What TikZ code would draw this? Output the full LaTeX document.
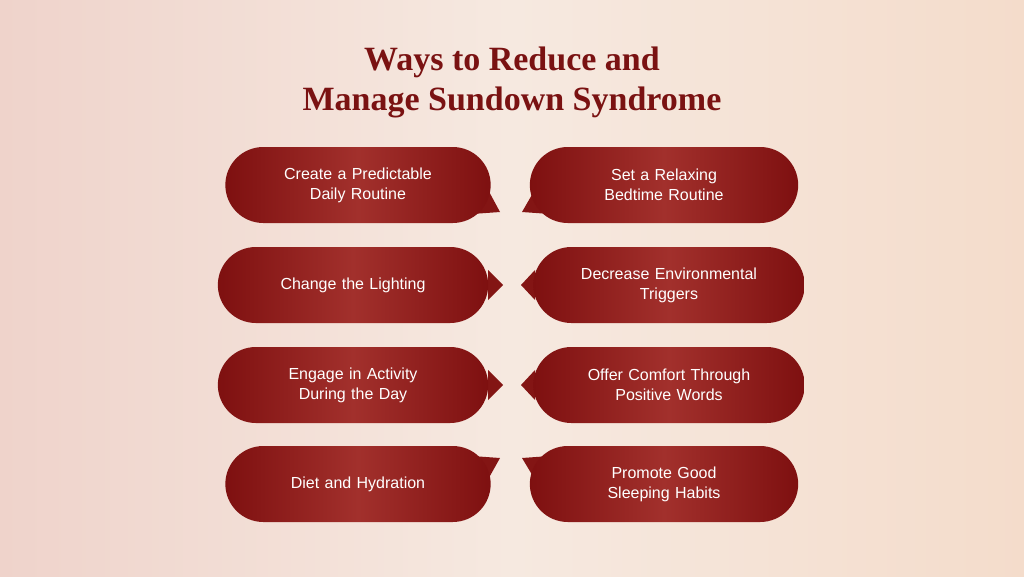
\documentclass[tikz,border=0pt]{standalone}
\usepackage{fontspec}
\setmainfont{Liberation Sans}
\newfontfamily\titlefont{Liberation Serif}
\usetikzlibrary{shapes.misc,positioning}
\definecolor{wine}{HTML}{7E1010}
\definecolor{winemid}{HTML}{A2302C}
\definecolor{titlered}{HTML}{7A1212}
\definecolor{bgleft}{HTML}{EFD3CB}
\definecolor{bgmid}{HTML}{F6E9E0}
\definecolor{bgright}{HTML}{F4DCCB}
\begin{document}
\begin{tikzpicture}[x=1pt,y=-1pt]

  \tikzset{
    bubble/.style={rounded rectangle,minimum height=76pt,text width=200pt,align=center,
      left color=wine,right color=wine,middle color=winemid,text=white,
      font=\fontsize{16}{20}\selectfont},
    tail/.style={fill=wine!85!winemid},
  }

  % background
  \shade[left color=bgleft,right color=bgright,middle color=bgmid]
    (0,0) rectangle (1024,576);
  \useasboundingbox (0,0) rectangle (1024,576);

  \node[text=titlered,align=center,font=\titlefont\bfseries\fontsize{34}{40}\selectfont] (title) at (512,82)
    {Ways to Reduce and\\Manage Sundown Syndrome};

  % LEFT column
  \fill[tail] (486,186) -- (500,212) -- (472,214) -- cycle;
  \node[bubble,minimum width=272pt] (b1) at (358,185) {Create a Predictable\\Daily Routine};
  \fill[tail] (488,270) -- (503,285) -- (488,300) -- cycle;
  \node[bubble,minimum width=277pt] (b3) at (353,285) {Change the Lighting};
  \fill[tail] (488,370) -- (503,385) -- (488,400) -- cycle;
  \node[bubble,minimum width=277pt] (b5) at (353,385) {Engage in Activity\\During the Day};
  \fill[tail] (486,483) -- (500,458) -- (472,456) -- cycle;
  \node[bubble,minimum width=272pt] (b7) at (358,484) {Diet and Hydration};

  % RIGHT column
  \fill[tail] (537,186) -- (522,212) -- (550,214) -- cycle;
  \node[bubble,minimum width=275pt] (b2) at (664,185) {Set a Relaxing\\Bedtime Routine};
  \fill[tail] (535,270) -- (521,285) -- (535,300) -- cycle;
  \node[bubble,minimum width=278pt] (b4) at (669,285) {Decrease Environmental\\Triggers};
  \fill[tail] (535,370) -- (521,385) -- (535,400) -- cycle;
  \node[bubble,minimum width=278pt] (b6) at (669,385) {Offer Comfort Through\\Positive Words};
  \fill[tail] (537,483) -- (522,458) -- (550,456) -- cycle;
  \node[bubble,minimum width=275pt] (b8) at (664,484) {Promote Good\\Sleeping Habits};

\end{tikzpicture}
\end{document}
